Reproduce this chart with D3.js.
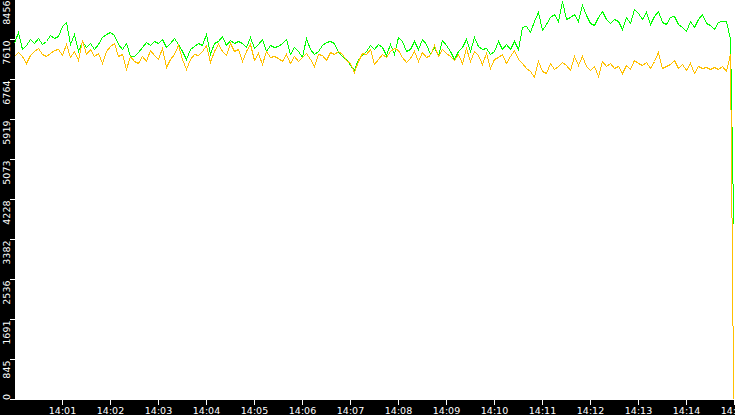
<!DOCTYPE html>
<html><head><meta charset="utf-8">
<script src="https://cdn.jsdelivr.net/npm/d3@7/dist/d3.min.js"></script>
<style>html,body{margin:0;padding:0;background:#000;overflow:hidden}</style>
</head><body><svg id="c" width="735" height="415"></svg>
<script>
// ---- data ----
const startClock = "14:00:00";
const endClock = "14:15:00";
const sampleStepSeconds = 5;
const finalSampleSecond = 899;

const greenSeries = [
7526,7759,7399,7483,7610,7526,7632,7505,7568,7695,7632,7674,7886,7970,7505,7716,7357,7568,7441,7526,7399,7505,7653,7716,7759,7695,7505,7399,7526,7251,
7251,7336,7441,7547,7483,7568,7526,7610,7441,7526,7632,7505,7357,7188,7399,7462,7526,7483,7716,7293,7526,7568,7674,7483,7589,7526,7568,7526,7441,7653,
7420,7505,7610,7357,7483,7441,7462,7526,7610,7293,7441,7357,7230,7632,7399,7293,7357,7483,7547,7568,7526,7336,7251,7188,7061,6955,7188,7272,7357,7483,
7399,7505,7441,7272,7505,7293,7653,7568,7357,7399,7568,7399,7610,7505,7293,7441,7272,7589,7483,7357,7188,7357,7441,7610,7357,7653,7462,7399,7420,7293,
7357,7568,7399,7505,7399,7568,7399,7864,7886,7759,7991,8181,7801,7928,8076,8139,7991,8414,8033,8076,8139,7991,8329,8118,7949,7907,8076,8202,8033,7949,
8033,7991,7822,8076,7949,8245,8160,8033,8181,7928,8097,8202,7970,7928,8076,8097,7928,7864,7780,7991,7864,8033,8139,7949,7907,7822,7970,7991,7991,7610,
3720];

const orangeSeries = [
7251,7336,7251,7103,7272,7357,7420,7293,7251,7314,7378,7399,7272,7505,7230,7357,7167,7589,7293,7399,7251,7314,7103,7357,7462,7526,7251,7293,6976,7251,
7145,7103,7251,7145,7378,7272,7188,7420,7019,7188,7293,7483,7188,6976,7188,7293,7272,7357,7483,7124,7357,7505,7357,7272,7526,7357,7399,7145,7357,7505,
7167,7314,7082,7357,7230,7251,7209,7145,7293,7103,7251,7145,7230,7314,7188,7040,7293,7272,7167,7336,7293,7357,7293,7167,7103,6913,7145,7314,7293,7399,
7082,7188,7293,7230,7357,7420,7378,7230,7124,7209,7357,7145,7336,7230,7272,7483,7251,7399,7314,7251,7167,7293,7103,7420,7145,7357,7272,7082,7314,6997,
7188,7230,7293,7103,7251,7378,7188,7103,6997,6934,6807,7145,6934,6892,7103,6976,7040,7124,7061,6955,7251,7061,7251,7040,6955,7040,6828,7145,7040,7103,
6997,7040,6892,7061,6976,7167,7103,7061,7124,6997,7145,7336,6997,7040,7082,7167,6997,7082,6955,7103,6892,7040,6997,7019,6976,7019,6976,7040,6934,7293,
0];

const yMax = 8456;
const yTickValues = [0,845.6,1691.2,2536.8,3382.4,4228,5073.6,5919.2,6764.8,7610.4,8456];
const yTickLabels = ["0","845","1691","2536","3382","4228","5073","5919","6764","7610","8456"];
const xTickLabels = ["14:01","14:02","14:03","14:04","14:05","14:06","14:07","14:08","14:09","14:10","14:11","14:12","14:13","14:14","14:15"];

// ---- chart ----
const W = 735, H = 415, left = 15, plotBottom = 400;
const svg = d3.select("#c");
const parse = d3.timeParse("%Y-%m-%d %H:%M:%S");
const t0 = parse("2020-01-01 " + startClock), t1 = parse("2020-01-01 " + endClock);
const x = d3.scaleTime().domain([t0, t1]).range([left - 0.5, W - 0.5]);
const y = d3.scaleLinear().domain([0, yMax]).range([plotBottom - 0.5, -0.5]);

function sampleTime(i, n) {
  const s = (i === n - 1) ? finalSampleSecond : i * sampleStepSeconds;
  return new Date(t0.getTime() + s * 1000);
}
const toPoints = arr => arr.map((v, i) => ({t: sampleTime(i, arr.length), v}));

svg.append("rect").attr("width", W).attr("height", H).attr("fill", "#000");
svg.append("rect").attr("x", left).attr("y", 0).attr("width", W - left).attr("height", plotBottom).attr("fill", "#fff");

const line = d3.line().x(d => x(d.t)).y(d => y(d.v));
svg.append("path").datum(toPoints(greenSeries))
  .attr("d", line).attr("fill", "none").attr("stroke", "#00ff00").attr("stroke-width", 1)
  .attr("shape-rendering", "crispEdges");
svg.append("path").datum(toPoints(orangeSeries))
  .attr("d", line).attr("fill", "none").attr("stroke", "#ffc000").attr("stroke-width", 1)
  .attr("shape-rendering", "crispEdges");

const font = "'DejaVu Sans', sans-serif";
// y axis
const ya = svg.append("g");
yTickValues.forEach((v, i) => {
  const yy = y(v);
  ya.append("line").attr("x1", 10).attr("x2", left).attr("y1", yy).attr("y2", yy)
    .attr("stroke", "#fff").attr("shape-rendering", "crispEdges");
  const first = i === 0;
  const pos = first ? plotBottom : Math.max(yy + 1, 0);
  ya.append("text").attr("transform", `translate(9.5,${pos}) rotate(-90)`)
    .attr("text-anchor", first ? "start" : "end")
    .attr("fill", "#fff").attr("font-family", font).attr("font-size", "9.5px")
    .text(yTickLabels[i]);
});

// x axis
const xa = svg.append("g");
xTickLabels.forEach(lbl => {
  const tt = parse("2020-01-01 " + lbl + ":00");
  const xx = x(tt);
  xa.append("line").attr("x1", xx).attr("x2", xx).attr("y1", plotBottom).attr("y2", plotBottom + 5)
    .attr("stroke", "#fff").attr("shape-rendering", "crispEdges");
  xa.append("text").attr("x", xx).attr("y", 414).attr("text-anchor", "middle")
    .attr("fill", "#fff").attr("font-family", font).attr("font-size", "9.5px")
    .text(lbl);
});
</script></body></html>
